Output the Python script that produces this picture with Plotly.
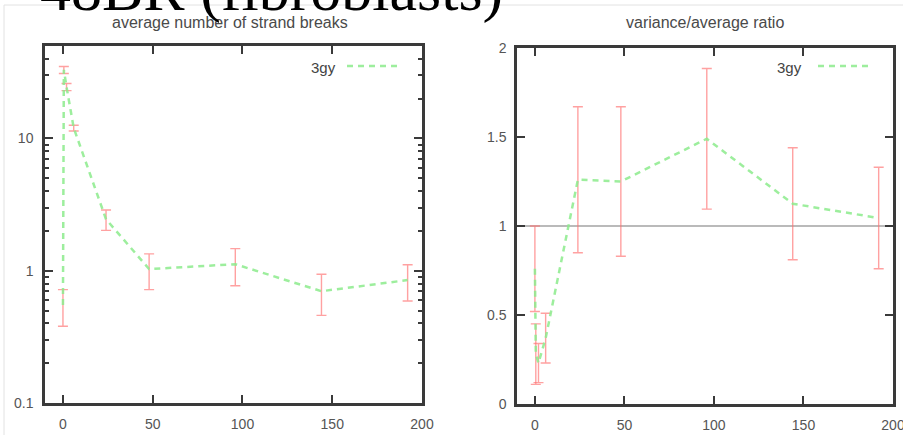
import plotly.graph_objects as go

# ---- data ----
hours = [0, 0.5, 2, 6, 24, 48, 96, 144, 192]
avg_breaks = [0.55, 33, 24.5, 12, 2.45, 1.03, 1.12, 0.70, 0.85]
avg_breaks_err = [0.17, 2.0, 1.5, 0.6, 0.43, 0.31, 0.35, 0.24, 0.26]
ratio = [0.76, 0.28, 0.23, 0.37, 1.26, 1.25, 1.49, 1.125, 1.045]
ratio_err = [0.24, 0.17, 0.11, 0.14, 0.41, 0.42, 0.395, 0.315, 0.285]
series_name = "3gy"
x_ticks = [0, 50, 100, 150, 200]
left_ticks = [0.1, 1, 10]
left_tick_text = ["0.1", "1", "10"]
right_ticks = [0, 0.5, 1, 1.5, 2]
right_tick_text = ["0", "0.5", "1", "1.5", "2"]
ref_level = 1

W, H = 903, 435
GREEN = "rgba(140,235,140,0.85)"
RED = "rgba(255,110,110,0.65)"
AX = "#3a3a3a"
TXT = "#555555"
FONT = "Liberation Sans, Arial, sans-serif"


def px(x):
    return x / W


def py(y):
    return 1 - y / H


fig = go.Figure()

fig.add_trace(go.Scatter(
    x=hours, y=avg_breaks, mode="lines", name=series_name,
    line=dict(color=GREEN, width=2.5, dash="6px,5px"),
    error_y=dict(type="data", array=avg_breaks_err, color=RED, thickness=1.4, width=5),
    xaxis="x", yaxis="y", showlegend=False))

fig.add_trace(go.Scatter(
    x=hours, y=ratio, mode="lines", name=series_name,
    line=dict(color=GREEN, width=2.5, dash="6px,5px"),
    error_y=dict(type="data", array=ratio_err, color=RED, thickness=1.4, width=5),
    xaxis="x2", yaxis="y2", showlegend=False))

axis_common = dict(showgrid=False, zeroline=False, showline=True, linecolor=AX, linewidth=2.5,
                   mirror="ticks", ticks="inside", tickcolor=AX, tickwidth=1.5, ticklen=8,
                   automargin=False, ticklabeloverflow="allow",
                   tickfont=dict(family=FONT, size=14, color=TXT))

fig.update_layout(
    width=W, height=H,
    margin=dict(l=0, r=0, t=0, b=0, autoexpand=False),
    paper_bgcolor="white", plot_bgcolor="white",
    showlegend=False,
    xaxis=dict(domain=[px(45), px(422)], range=[-10, 200], tickvals=x_ticks,
               anchor="y", ticklabelstandoff=6, **axis_common),
    yaxis=dict(domain=[py(403), py(46)], type="log", range=[-1, 1.699],
               tickvals=left_ticks, ticktext=left_tick_text, anchor="x",
               ticklabelstandoff=6,
               minor=dict(ticks="inside", ticklen=4, tickcolor=AX, tickwidth=1.5,
                          dtick="D1", showgrid=False),
               **axis_common),
    xaxis2=dict(domain=[px(517), px(893)], range=[-10, 200], tickvals=x_ticks,
                anchor="y2", ticklabelstandoff=6, **axis_common),
    yaxis2=dict(domain=[py(404), py(48)], range=[0, 2], tickvals=right_ticks,
                ticktext=right_tick_text, anchor="x2", ticklabelstandoff=5, **axis_common),
)

# reference line at ratio 1
fig.add_shape(type="line", xref="x2 domain", yref="y2", x0=0, x1=1, y0=ref_level, y1=ref_level,
              line=dict(color="#777777", width=1.2), layer="below")

# faint border of the embedded picture
fig.add_shape(type="line", xref="paper", yref="paper", x0=px(4), x1=1, y0=py(5), y1=py(5),
              line=dict(color="#e2e2e2", width=1))
fig.add_shape(type="line", xref="paper", yref="paper", x0=px(4), x1=px(4), y0=0, y1=py(5),
              line=dict(color="#e2e2e2", width=1))

# subplot titles
fig.add_annotation(text="average number of strand breaks", xref="paper", yref="paper",
                   x=px(230), y=py(23), xanchor="center", yanchor="middle", showarrow=False,
                   font=dict(family=FONT, size=16, color="#4a4a4a"))
fig.add_annotation(text="variance/average ratio", xref="paper", yref="paper",
                   x=px(705), y=py(23), xanchor="center", yanchor="middle", showarrow=False,
                   font=dict(family=FONT, size=16, color="#4a4a4a"))

# legends (label then line sample, gnuplot style)
for tx, l0, l1 in [(338, 347, 400), (804, 818, 872)]:
    fig.add_annotation(text=series_name, xref="paper", yref="paper", x=px(tx), y=py(67),
                       xanchor="right", yanchor="middle", showarrow=False,
                       font=dict(family=FONT, size=15, color="#444444"))
    fig.add_shape(type="line", xref="paper", yref="paper", x0=px(l0), x1=px(l1),
                  y0=py(66), y1=py(66), line=dict(color=GREEN, width=2.5, dash="6px,5px"))

# big slide title, cut by the top edge
fig.add_annotation(text="48BR (fibroblasts)", xref="paper", yref="paper",
                   x=px(38), y=py(26), xanchor="left", yanchor="bottom", showarrow=False,
                   font=dict(family="Liberation Serif", size=62, color="black"))

fig.write_html("out.html")
